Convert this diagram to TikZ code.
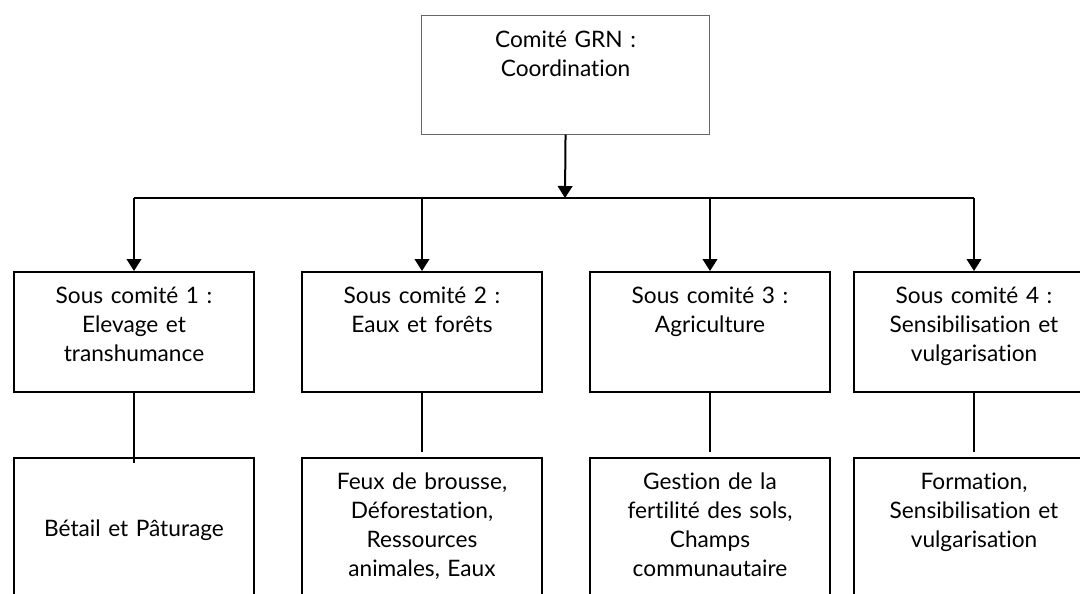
\documentclass[tikz,border=0pt]{standalone}
\usepackage{fontspec}
\setmainfont{Lato}[Ligatures={NoCommon}]
\usetikzlibrary{positioning,arrows.meta}
\begin{document}
\begin{tikzpicture}[x=0.75pt,y=-0.75pt,
  cadre/.style={draw,line width=1.5pt,inner sep=0pt,anchor=north west,minimum width=180pt},
  texte/.style={inner sep=0pt,text width=170pt,align=center,font=\fontsize{17}{21.75}\selectfont},
  trait/.style={line width=1.5pt},
  fleche/.style={trait,-{Triangle[length=9pt,width=11pt]}}]
\useasboundingbox (0,0) rectangle (1080,593);

\node[draw=black!60,line width=0.8pt,inner sep=0pt,anchor=north west,minimum width=216pt,minimum height=89pt] (grn) at (421,15) {};
\node[texte,below=12pt of grn.north] (grntxt) {Comité GRN :\\Coordination};

\foreach \i/\x in {1/13,2/301,3/589,4/853} {
  \node[cadre,minimum height=90pt] (sc\i) at (\x,271) {};
  \node[cadre,minimum height=150pt] (th\i) at (\x,457) {};
}

\node[texte,below=12pt of sc1.north] (sc1txt) {Sous comité 1 :\\Elevage et\\transhumance};
\node[texte,below=12pt of sc2.north] (sc2txt) {Sous comité 2 :\\Eaux et forêts};
\node[texte,below=12pt of sc3.north] (sc3txt) {Sous comité 3 :\\Agriculture};
\node[texte,below=12pt of sc4.north] (sc4txt) {Sous comité 4 :\\Sensibilisation et\\vulgarisation};

\node[texte,below=47pt of th1.north] (th1txt) {Bétail et Pâturage};
\node[texte,below=12pt of th2.north] (th2txt) {Feux de brousse,\\Déforestation,\\Ressources\\animales, Eaux};
\node[texte,below=12pt of th3.north] (th3txt) {Gestion de la\\fertilité des sols,\\Champs\\communautaire};
\node[texte,below=12pt of th4.north] (th4txt) {Formation,\\Sensibilisation et\\vulgarisation};

\coordinate (bus) at (565,198);
\draw[fleche] (grn.south) -- (bus);
\draw[trait] (sc1.north |- bus) -- (sc4.north |- bus);
\foreach \i in {1,...,4} {
  \draw[fleche] (sc\i.north |- bus) -- (sc\i.north);
}
\foreach \i in {2,3,4} {
  \draw[trait,shorten >=4pt] (sc\i.south) -- (th\i.north);
}
\draw[trait,shorten >=-4.5pt] (sc1.south) -- (th1.north);
\end{tikzpicture}
\end{document}
